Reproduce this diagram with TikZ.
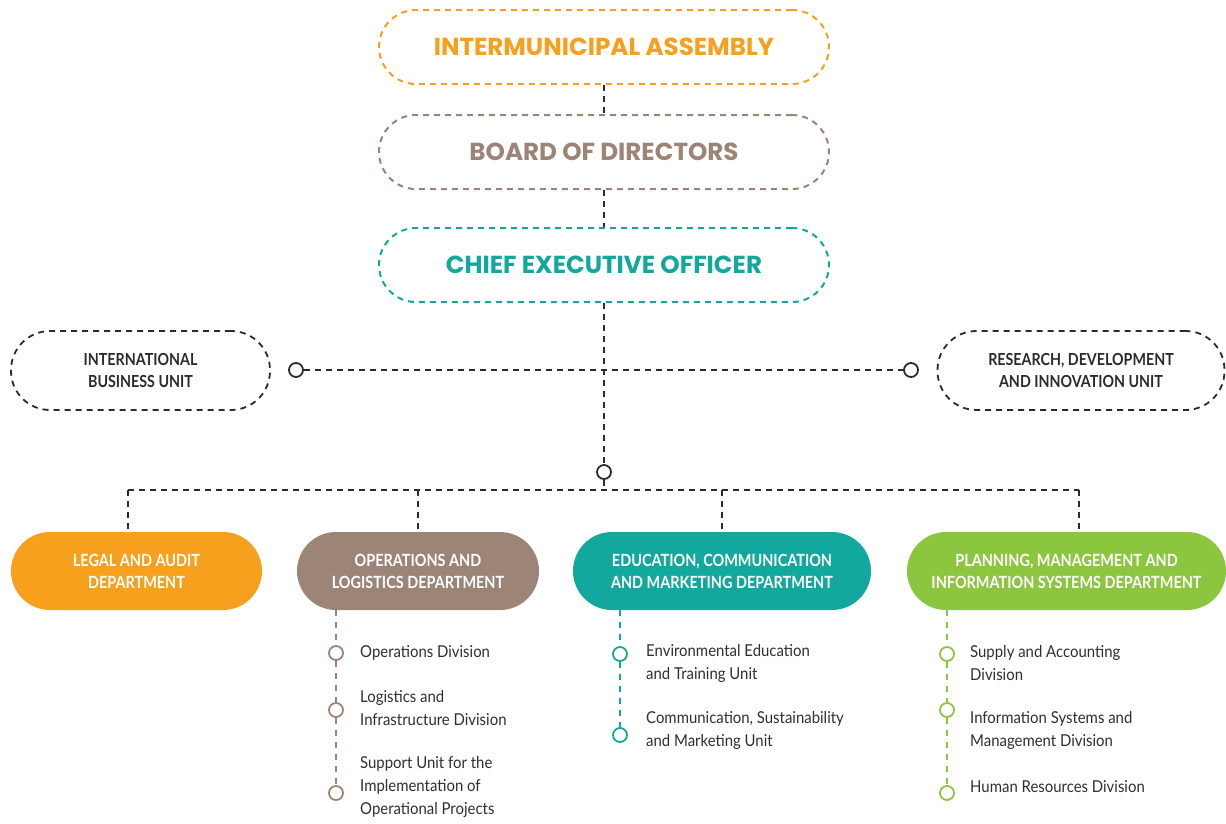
\documentclass[tikz,border=0pt]{standalone}
\usepackage{fontspec}
\setmainfont{Lato}
\newfontfamily\headfont{Poppins}
\newfontfamily\condfont{Lato}[FakeStretch=0.86]
\newfontfamily\itemfont{Lato}[FakeStretch=0.91]
\definecolor{orgc}{HTML}{F6A01E}
\definecolor{brnc}{HTML}{9C8577}
\definecolor{tlc}{HTML}{13A89E}
\definecolor{grnc}{HTML}{8CC63F}
\definecolor{txtc}{HTML}{2F2F2F}
\definecolor{linec}{HTML}{2B2B2B}
\tikzset{
  dashpat/.style={dash pattern=on 6pt off 5pt},
  topbox/.style={draw=#1, text=#1, dashpat, line width=2, rounded corners=37,
    minimum width=450, minimum height=74, inner sep=0,
    font=\headfont\bfseries\fontsize{24.6}{28}\selectfont},
  sidebox/.style={draw=linec, dashpat, line width=1.8, rounded corners=39,
    minimum width=259, minimum height=79, inner sep=0, align=center, text=linec,
    font=\condfont\bfseries\fontsize{16.6}{22}\selectfont},
  dept/.style={fill=#1, draw=none, rounded corners=39, minimum height=78,
    inner sep=0, align=center, text=white,
    font=\condfont\bfseries\fontsize{16.8}{22}\selectfont},
  conn/.style={draw=linec, dashpat, line width=1.8},
  sub/.style={draw=#1, dash pattern=on 6pt off 6pt, line width=1.6},
  dot/.style={circle, draw=#1, fill=white, minimum size=14, inner sep=0, line width=1.8},
  item/.style={anchor=west, align=left, inner sep=0, text=txtc,
    font=\itemfont\fontsize{16.4}{23}\selectfont},
}
\begin{document}
\begin{tikzpicture}[x=1pt,y=-1pt]
\useasboundingbox (0,0) rectangle (1226,823);
% top chain
\node[topbox=orgc] (ia) at (604,47) {INTERMUNICIPAL ASSEMBLY};
\node[topbox=brnc] (bd) at (604,152) {BOARD OF DIRECTORS};
\node[topbox=tlc] (ceo) at (604,265) {CHIEF EXECUTIVE OFFICER};
\draw[conn] (ia.south) -- (bd.north);
\draw[conn] (bd.south) -- (ceo.north);
% side units
\node[sidebox] (ibu) at (140.5,370.5) {INTERNATIONAL\\BUSINESS UNIT};
\node[sidebox, minimum width=287] (rdi) at (1081,370.5) {RESEARCH, DEVELOPMENT\\AND INNOVATION UNIT};
\node[dot=linec] (cl) at (296,370) {};
\node[dot=linec] (cr) at (911,370) {};
\node[dot=linec] (cm) at (604,472) {};
\draw[conn] (cl) -- (cr);
\draw[conn] (ceo.south) -- (cm.north);
% departments
\node[dept=orgc, minimum width=251] (lad) at (136.5,571) {LEGAL AND AUDIT\\DEPARTMENT};
\node[dept=brnc, minimum width=242] (old) at (418,571) {OPERATIONS AND\\LOGISTICS DEPARTMENT};
\node[dept=tlc, minimum width=298] (ecm) at (722,571) {EDUCATION, COMMUNICATION\\AND MARKETING DEPARTMENT};
\node[dept=grnc, minimum width=319] (pmi) at (1066.5,571) {PLANNING, MANAGEMENT AND\\INFORMATION SYSTEMS DEPARTMENT};
% bus
\coordinate (b1) at (128,490);
\coordinate (b2) at (418,490);
\coordinate (b3) at (722,490);
\coordinate (b4) at (1079,490);
\draw[conn] (b1) -- (b4);
\draw[conn] (cm.south) -- (cm.south |- b1);
\draw[conn] (b1) -- (b1 |- lad.north);
\draw[conn] (b2) -- (b2 |- old.north);
\draw[conn] (b3) -- (b3 |- ecm.north);
\draw[conn] (b4) -- (b4 |- pmi.north);
% operations list
\coordinate (os) at (336,610);
\node[dot=brnc] (o1) at (336,653) {};
\node[dot=brnc] (o2) at (336,710) {};
\node[dot=brnc] (o3) at (336,793) {};
\draw[sub=brnc] (os) -- (o1.north);
\draw[sub=brnc] (o1.south) -- (o2.north);
\draw[sub=brnc] (o2.south) -- (o3.north);
\node[item] (ot1) at (360,653) {Operations Division};
\node[item] (ot2) at (360,708.5) {Logistics and\\Infrastructure Division};
\node[item] (ot3) at (360,787) {Support Unit for the\\Implementation of\\Operational Projects};
% education list
\coordinate (es) at (620,610);
\node[dot=tlc] (e1) at (620,654) {};
\node[dot=tlc] (e2) at (620,735) {};
\draw[sub=tlc] (es) -- (e1.north);
\draw[sub=tlc] (e1.south) -- (e2.north);
\node[item] (et1) at (646,663.5) {Environmental Education\\and Training Unit};
\node[item] (et2) at (646,730.5) {Communication, Sustainability\\and Marketing Unit};
% planning list
\coordinate (ps) at (947,610);
\node[dot=grnc] (p1) at (947,654) {};
\node[dot=grnc] (p2) at (947,710) {};
\node[dot=grnc] (p3) at (947,793) {};
\draw[sub=grnc] (ps) -- (p1.north);
\draw[sub=grnc] (p1.south) -- (p2.north);
\draw[sub=grnc] (p2.south) -- (p3.north);
\node[item] (pt1) at (970,663.5) {Supply and Accounting\\Division};
\node[item] (pt2) at (970,730.5) {Information Systems and\\Management Division};
\node[item] (pt3) at (970,787) {Human Resources Division};
\end{tikzpicture}
\end{document}
